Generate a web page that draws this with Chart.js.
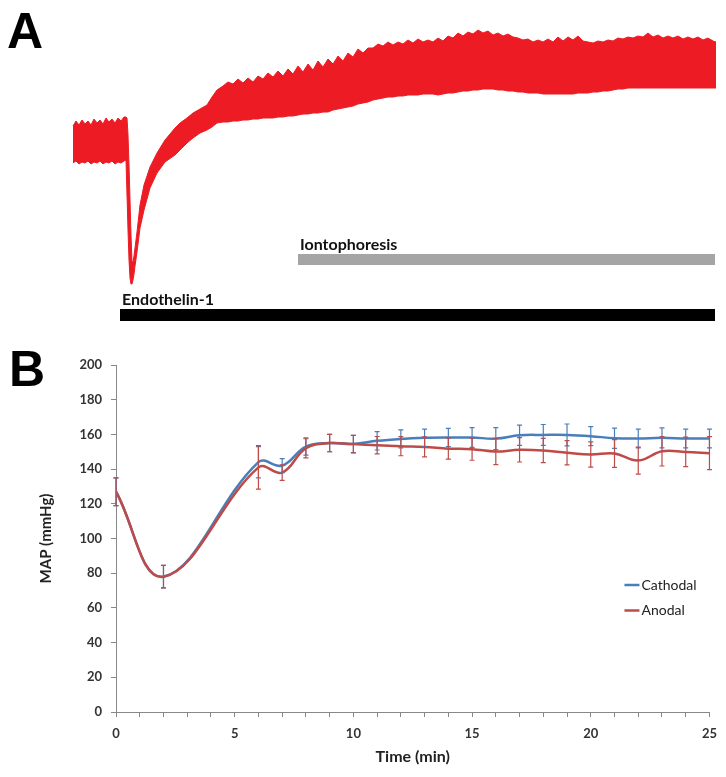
<!DOCTYPE html>
<html>
<head>
<meta charset="utf-8">
<script src="https://cdn.jsdelivr.net/npm/chart.js@4.4.1/dist/chart.umd.min.js"></script>
<style>
  body { margin: 0; background: #fff; width: 726px; height: 777px; position: relative; overflow: hidden; font-family: Lato, sans-serif; }
  .panel { position: absolute; left: 0; width: 726px; }
  #boxA { top: 0; height: 330px; }
  #boxB { top: 330px; height: 447px; }
  .letter { position: absolute; font: bold 50px "Liberation Sans", Arial, sans-serif; line-height: 1; color: #000; }
</style>
</head>
<body>
<div class="panel" id="boxA"><canvas id="traceChart"></canvas></div>
<div class="panel" id="boxB"><canvas id="mapChart"></canvas></div>
<div class="letter" style="left:7px;top:6px">A</div>
<div class="letter" style="left:9px;top:344px">B</div>

<script>
// Panel A - raw pressure trace (envelope of the oscillating signal), time in s
const traceTime = [
  -107.5, -100, -92.5, -85, -77.5, -70, -62.5, -55, -47.5, -40, -32.5, -25, -17.5, -10, -2.5, 5, 12.5, 20, 25,
  27.5, 30, 32.5, 35, 37.5, 40, 42.5, 45, 47.5, 52.5, 60, 70, 85, 102.5, 122.5, 147.5, 160, 177.5, 192.5, 210,
  227.5, 240, 252.5, 267.5, 280, 292.5, 305, 317.5, 330, 342.5, 355, 367.5, 380, 392.5, 405, 417.5, 430, 442.5,
  455, 467.5, 480, 492.5, 505, 517.5, 530, 542.5, 555, 567.5, 580, 592.5, 605, 617.5, 630, 642.5, 655, 667.5,
  680, 692.5, 705, 717.5, 730, 742.5, 755, 767.5, 780, 792.5, 805, 817.5, 830, 842.5, 855, 867.5, 880, 892.5,
  905, 917.5, 930, 942.5, 955, 967.5, 980, 992.5, 1005, 1017.5, 1030, 1042.5, 1055, 1067.5, 1080, 1092.5, 1105,
  1117.5, 1130, 1142.5, 1155, 1167.5, 1180, 1192.5, 1205, 1217.5, 1230, 1242.5, 1255, 1267.5, 1280, 1292.5, 1305,
  1317.5, 1330, 1342.5, 1355, 1367.5, 1380, 1392.5, 1405, 1417.5, 1430, 1442.5, 1455, 1467.5, 1480, 1492.5, 1500
];
const traceUpper = [
  102, 104.5, 102.5, 105, 103, 104.5, 102.5, 105.5, 103.5, 105, 103, 106, 104, 105.5, 103.5, 106, 104.5, 106.5, 106.5,
  106, 97.5, 82.5, 65, 47.5, 34, 34, 37, 41, 49, 62.5, 72.5, 81.5, 88.5, 95, 101, 103.5, 106, 108.5, 110.5,
  112.5, 116.5, 120, 122, 124, 123, 125.5, 123.5, 126, 124, 127, 125.5, 128.5, 126.5, 129.5, 127, 130.5, 128,
  132, 129, 133, 130, 134.5, 131.5, 135.5, 133, 137, 134.5, 138.5, 136.5, 140.5, 138.5, 141, 141, 143, 142,
  144, 142.5, 144, 143, 145, 143.5, 145.5, 144, 145, 144, 146, 144.5, 147, 146, 148.5, 147, 149, 148,
  150, 148.5, 149.5, 147.5, 148.5, 147, 148, 146.5, 146, 145, 145.5, 144, 145, 144, 145.5, 144, 146.5,
  144.5, 146.5, 145, 147, 144.5, 144, 143.5, 144.5, 144, 145, 144.5, 146, 145.5, 146.5, 146, 147,
  146.5, 148.5, 146.5, 147.5, 146, 147, 146, 147, 145.5, 146.5, 145.5, 146.5, 145, 146, 144.5, 144
];
const traceLower = [
  83.5, 84.5, 83, 84, 83.5, 84.5, 83, 84, 83.5, 84.5, 83, 84, 83.5, 84.5, 83, 84, 83.5, 84.5, 85,
  67.5, 50, 35, 26, 23, 23, 25, 28, 32, 39, 51, 60, 71, 78.5, 84, 87.5, 90, 93.5, 96, 98.5,
  100, 101.5, 103.5, 104, 104, 104.5, 104.5, 105, 105, 105.5, 105.5, 106, 106, 106, 106.5, 106.5, 107, 107,
  107.5, 108, 108, 108.5, 108.5, 109, 109, 110, 110.5, 111, 111.5, 112, 113, 113.5, 114, 115, 115.5, 116,
  116.5, 116.5, 117, 117, 117.5, 117.5, 117.5, 118, 118, 118, 117.5, 118, 118.5, 118.5, 119, 119.5, 119.5, 120,
  120, 120.5, 120.5, 120.5, 120, 120, 119.5, 119.5, 119, 119, 118.5, 118.5, 118.5, 118, 118, 118, 118,
  118, 118, 118, 118.5, 118.5, 118.5, 119, 119, 119.5, 119.5, 120, 120.5, 120.5, 121, 121, 121,
  121, 121, 121, 121, 121, 121, 121, 121, 121, 121, 121, 121, 121, 121, 121, 121
];
const infusionSpans = { 'Endothelin-1': [10, 1497.5], 'Iontophoresis': [455, 1497.5] };

// Panel B - MAP (mmHg) vs time (min)
const minutes = [0, 2, 6, 7, 8, 9, 10, 11, 12, 13, 14, 15, 16, 17, 18, 19, 20, 21, 22, 23, 24, 25];
const cathodal = [127, 78, 144, 142, 153, 155, 154.5, 156.3, 157.4, 158, 158.2, 158.2, 157.6, 159.5, 159.7, 159.7, 159, 157.8, 157.6, 158, 157.6, 157.6];
const anodal = [127, 78, 141, 138, 152, 155, 154.4, 153.8, 153.2, 152.8, 151.8, 151.5, 150.1, 151.1, 150.7, 149.4, 148.4, 149, 144.9, 150.3, 149.9, 149.2];
const cathodalErr = [8, 6.5, 9, 4, 5, 5, 5, 5.3, 5.2, 5, 5.3, 5.7, 6.3, 5.8, 6, 6.3, 5.5, 5.8, 5.4, 5.8, 5.4, 5.4];
const anodalErr = [8, 6.5, 12.5, 4.5, 5.5, 5, 5, 5, 5.5, 5.8, 6, 6.4, 7.5, 7, 7, 7, 7.3, 8, 7.8, 8.5, 8.5, 9.5];
const yTicks = [0, 20, 40, 60, 80, 100, 120, 140, 160, 180, 200];

const traceRed = '#ed1c24';
const blue = '#4a7ebb';
const red = '#be4b48';

// ---------- Panel A ----------
const barLevel = { 'Endothelin-1': 7.5, 'Iontophoresis': 35.25 };
const barColor = { 'Endothelin-1': '#000000', 'Iontophoresis': '#a5a5a5' };

const spanLabels = {
  id: 'spanLabels',
  afterDatasetsDraw(chart) {
    const { ctx, scales: { x, y } } = chart;
    ctx.save();
    ctx.font = 'bold 16px Lato';
    ctx.fillStyle = '#111';
    ctx.textBaseline = 'alphabetic';
    Object.keys(infusionSpans).forEach(name => {
      const px = x.getPixelForValue(infusionSpans[name][0]);
      const py = y.getPixelForValue(barLevel[name]);
      ctx.fillText(name, px + 2, py - 10);
    });
    ctx.restore();
  }
};

const traceCtx = document.getElementById('traceChart').getContext('2d');
new Chart(traceCtx, {
  type: 'line',
  data: {
    datasets: [
      {
        data: traceTime.map((t, i) => ({ x: t, y: traceUpper[i] })),
        borderColor: traceRed,
        backgroundColor: traceRed,
        borderWidth: 1,
        pointRadius: 0,
        fill: '+1'
      },
      {
        data: traceTime.map((t, i) => ({ x: t, y: traceLower[i] })),
        borderColor: traceRed,
        borderWidth: 1,
        pointRadius: 0,
        fill: false
      },
      ...Object.keys(infusionSpans).map(name => ({
        data: infusionSpans[name].map(t => ({ x: t, y: barLevel[name] })),
        borderColor: barColor[name],
        borderWidth: name === 'Endothelin-1' ? 12 : 11,
        borderCapStyle: 'butt',
        pointRadius: 0,
        fill: false
      }))
    ]
  },
  options: {
    responsive: true,
    maintainAspectRatio: false,
    animation: false,
    layout: { padding: 0 },
    scales: {
      x: { type: 'linear', min: -290, max: 1525, display: false },
      y: { min: 0, max: 165, display: false }
    },
    plugins: {
      legend: { display: false },
      tooltip: { enabled: false }
    }
  },
  plugins: [spanLabels]
});

// ---------- Panel B ----------
const errorBars = {
  id: 'errorBars',
  afterDatasetsDraw(chart) {
    const { ctx, scales: { x, y } } = chart;
    ctx.save();
    ctx.lineWidth = 1.2;
    chart.data.datasets.forEach(ds => {
      ctx.strokeStyle = ds.borderColor;
      ds.data.forEach((p, i) => {
        const e = ds.errors[i];
        const px = x.getPixelForValue(p.x);
        const top = y.getPixelForValue(p.y + e);
        const bot = y.getPixelForValue(p.y - e);
        ctx.beginPath();
        ctx.moveTo(px, top); ctx.lineTo(px, bot);
        ctx.moveTo(px - 2.5, top); ctx.lineTo(px + 2.5, top);
        ctx.moveTo(px - 2.5, bot); ctx.lineTo(px + 2.5, bot);
        ctx.stroke();
      });
    });
    ctx.restore();
  }
};

const seriesKey = {
  id: 'seriesKey',
  afterDraw(chart) {
    const { ctx, chartArea } = chart;
    ctx.save();
    ctx.font = '14px Lato';
    ctx.textBaseline = 'middle';
    chart.data.datasets.forEach((ds, i) => {
      const yy = chartArea.top + 220 + i * 25.5;
      ctx.strokeStyle = ds.borderColor;
      ctx.lineWidth = 2.5;
      ctx.beginPath();
      ctx.moveTo(chartArea.right - 85, yy);
      ctx.lineTo(chartArea.right - 70, yy);
      ctx.stroke();
      ctx.fillStyle = '#222';
      ctx.fillText(ds.label, chartArea.right - 68, yy);
    });
    ctx.restore();
  }
};

const mapCtx = document.getElementById('mapChart').getContext('2d');
new Chart(mapCtx, {
  type: 'line',
  data: {
    datasets: [
      {
        label: 'Cathodal',
        data: minutes.map((m, i) => ({ x: m, y: cathodal[i] })),
        errors: cathodalErr,
        borderColor: blue,
        borderWidth: 2.5,
        pointRadius: 0,
        tension: 0.4,
        fill: false,
        order: 1
      },
      {
        label: 'Anodal',
        data: minutes.map((m, i) => ({ x: m, y: anodal[i] })),
        errors: anodalErr,
        borderColor: red,
        borderWidth: 2.5,
        pointRadius: 0,
        tension: 0.4,
        fill: false,
        order: 0
      }
    ]
  },
  options: {
    responsive: true,
    maintainAspectRatio: false,
    animation: false,
    layout: { padding: { top: 35, right: 13, left: 0, bottom: 0 } },
    scales: {
      x: {
        type: 'linear',
        min: 0,
        max: 25,
        afterFit: s => { s.height = 65; },
        ticks: {
          stepSize: 1,
          autoSkip: false,
          maxRotation: 0,
          padding: 9,
          color: '#333',
          font: { family: 'Lato', size: 13, weight: 'bold' },
          callback: v => (v % 5 === 0 ? v : '')
        },
        grid: { drawOnChartArea: false, tickLength: 5, color: '#888' },
        border: { color: '#888' },
        title: {
          display: true,
          text: 'Time (min)',
          color: '#222',
          font: { family: 'Lato', size: 16, weight: 'bold' },
          padding: { top: 0, bottom: 11 }
        }
      },
      y: {
        min: 0,
        max: 200,
        afterFit: s => { s.width = 116; },
        afterBuildTicks: s => { s.ticks = yTicks.map(v => ({ value: v })); },
        ticks: {
          padding: 9,
          color: '#333',
          font: { family: 'Lato', size: 13, weight: 'bold' }
        },
        grid: { drawOnChartArea: false, tickLength: 5, color: '#888' },
        border: { color: '#888' },
        title: {
          display: true,
          text: 'MAP (mmHg)',
          color: '#222',
          font: { family: 'Lato', size: 15, weight: 'bold' },
          padding: { top: 37, bottom: 0 }
        }
      }
    },
    plugins: {
      legend: { display: false },
      tooltip: { enabled: false }
    }
  },
  plugins: [errorBars, seriesKey]
});
</script>
</body>
</html>
